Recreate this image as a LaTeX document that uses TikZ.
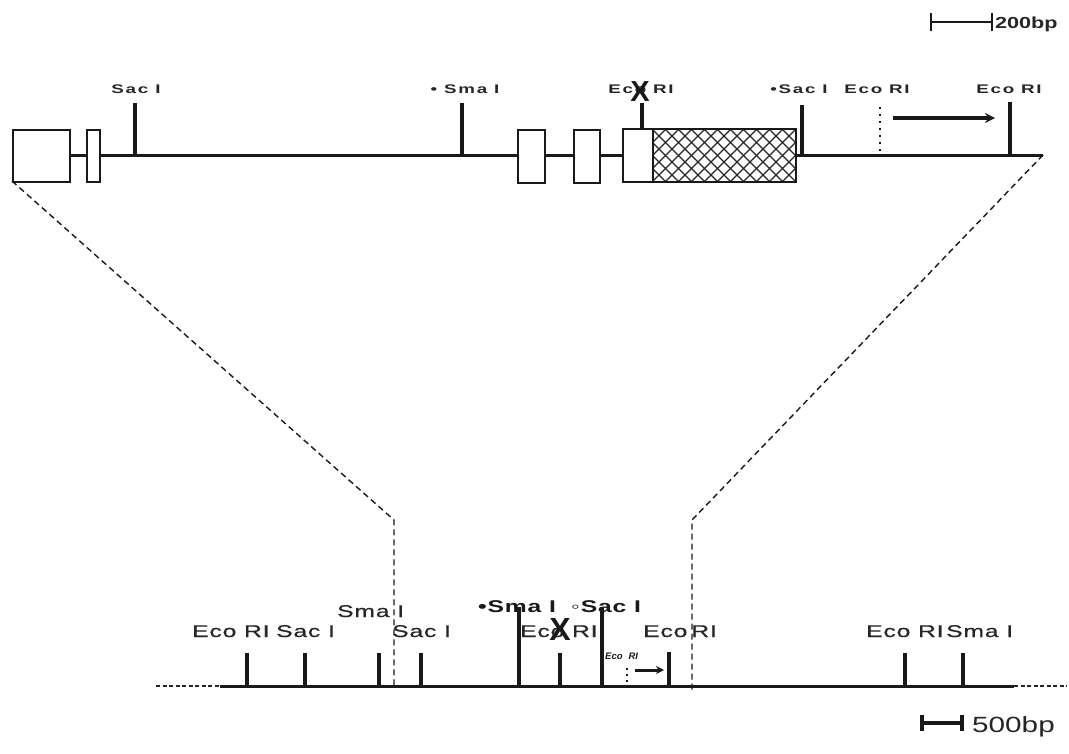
\documentclass[tikz,border=0pt]{standalone}
\usepackage{fontspec}
\usetikzlibrary{arrows.meta}
\setmainfont{Liberation Sans}
\newfontfamily\spacedtop[FakeStretch=1.5,LetterSpace=14]{Liberation Sans}
\newfontfamily\spacedbot[FakeStretch=1.45,LetterSpace=5,FakeBold=0.6]{Liberation Sans}
\newfontfamily\spacedbold[FakeStretch=1.45,LetterSpace=5]{Liberation Sans Bold}
\newfontfamily\spacedscl[FakeStretch=1.35]{Liberation Sans}
\begin{document}
\begin{tikzpicture}[x=1pt,y=-1pt,
  mainln/.style={draw=black!90, line width=3pt},
  exon/.style={draw=black!90, line width=2pt, fill=white},
  tk/.style={draw=black!90, line width=3.4pt},
  tlbl/.style={font=\spacedtop\bfseries\fontsize{12.5}{13}\selectfont, text=black!85, anchor=base, inner sep=0pt},
  blbl/.style={font=\spacedbot\fontsize{17}{18}\selectfont, text=black!85, anchor=base west, inner sep=0pt},
  bblbl/.style={font=\spacedbold\fontsize{17}{18}\selectfont, text=black!90, anchor=base west, inner sep=0pt},
  bigx/.style={font=\bfseries\fontsize{29}{29}\selectfont, text=black!90, inner sep=0pt},
  expand/.style={draw=black!90, line width=1.4pt, dash pattern=on 6pt off 4pt},
  dotln/.style={draw=black!90, line width=2.2pt, dash pattern=on 2pt off 5pt},
  arr/.style={draw=black!90, line width=3.6pt, -{Stealth[length=10pt,width=10pt]}},
  scl/.style={draw=black!90, line width=2.8pt}
]
\useasboundingbox (0,0) rectangle (1069,753);

% ---------- scale bar top ----------
\coordinate (s1a) at (931,22); \coordinate (s1b) at (992,22);
\draw[scl] (s1a) -- (s1b);
\draw[scl] ([yshift=-9pt]s1a) -- ([yshift=9pt]s1a);
\draw[scl] ([yshift=-9pt]s1b) -- ([yshift=9pt]s1b);
\node[font=\spacedscl\bfseries\fontsize{16}{16}\selectfont, text=black!85, anchor=base west, inner sep=0pt] (sc1) at (995,28) {200bp};

% ---------- top gene map ----------
\node[exon, minimum width=57pt, minimum height=52pt, anchor=north west] (e1) at (12,129) {};
\node[exon, minimum width=13pt, minimum height=52pt, anchor=north west] (e2) at (86,129) {};
\node[exon, minimum width=27pt, minimum height=53pt, anchor=north west] (e3) at (517,129) {};
\node[exon, minimum width=26pt, minimum height=53pt, anchor=north west] (e4) at (573,129) {};
\coordinate (lineend) at (1043,155);
\draw[mainln] (e1.east |- 0,155) -- (e2.west |- 0,155);
\draw[mainln] (e2.east |- 0,155) -- (e3.west |- 0,155);
\draw[mainln] (e3.east |- 0,155) -- (e4.west |- 0,155);
\draw[mainln] (e4.east |- 0,155) -- (623,155);
\draw[mainln] (796,155) -- (lineend);
% hatched exon
\begin{scope}
  \clip (653,129) rectangle (796,182);
  \foreach \i in {0,...,20} {
    \draw[black!85, line width=1.3pt] (600+\i*13,182) -- ++(53,-53);
    \draw[black!85, line width=1.3pt] (600+\i*13,129) -- ++(53,53);
  }
\end{scope}
\draw[exon, fill=none] (623,129) rectangle (796,182);
\draw[black!90, line width=2pt] (653,129) -- (653,182);
\node[inner sep=0pt, minimum size=0pt] (e5) at (709,155) {};

% top ticks
\coordinate (t1a) at (135,103); \coordinate (t1b) at (135,155);
\coordinate (t2a) at (462,103); \coordinate (t2b) at (462,155);
\coordinate (t3a) at (642,103); \coordinate (t3b) at (642,129);
\coordinate (t4a) at (802,105); \coordinate (t4b) at (802,155);
\coordinate (t5a) at (880,107); \coordinate (t5b) at (880,155);
\coordinate (t6a) at (1010,102); \coordinate (t6b) at (1010,155);
\draw[tk] (t1a) -- (t1b);
\draw[tk] (t2a) -- (t2b);
\draw[tk] (t3a) -- (t3b);
\draw[tk] (t4a) -- (t4b);
\draw[dotln] (t5a) -- (t5b);
\draw[tk] (t6a) -- (t6b);
\coordinate (a1a) at (893,118); \coordinate (a1b) at (995,118);
\draw[arr] (a1a) -- (a1b);

% top labels
\node[tlbl] (l1) at (136,93) {Sac I};
\node[tlbl] (l2) at (465,93) {\textbullet\ Sma I};
\node[tlbl] (l3) at (641,93) {Eco RI};
\node[bigx] (x1) at (640,92) {X};
\node[tlbl] (l4) at (799,93) {\textbullet Sac I};
\node[tlbl] (l5) at (877,93) {Eco RI};
\node[tlbl] (l6) at (1009,93) {Eco RI};

% ---------- expansion lines ----------
\coordinate (xl1) at (12,181); \coordinate (xl2) at (394,520); \coordinate (xl3) at (394,688);
\coordinate (xr1) at (1043,155); \coordinate (xr2) at (692,520); \coordinate (xr3) at (692,690);
\draw[expand] (xl1) -- (xl2) -- (xl3);
\draw[expand] (xr1) -- (xr2) -- (xr3);

% ---------- bottom map ----------
\coordinate (b0) at (156,686); \coordinate (b1) at (220,686);
\coordinate (b2) at (1014,686); \coordinate (b3) at (1067,686);
\draw[draw=black!85, line width=2.6pt, dash pattern=on 4pt off 2.5pt] (b0) -- (b1);
\draw[mainln] (b1) -- (b2);
\draw[draw=black!85, line width=2.6pt, dash pattern=on 4pt off 2.5pt] (b2) -- (b3);

\foreach \n/\x/\t in {u1/247/653, u2/305/653, u3/379/653, u4/421/653, u5/519/607, u6/560/653, u7/602/607, u8/669/652, u9/905/653, u10/963/653} {
  \coordinate (\n a) at (\x,\t);
  \coordinate (\n b) at (\x,686);
  \draw[tk] (\n a) -- (\n b);
}
\coordinate (d1a) at (627,668); \coordinate (d1b) at (627,686);
\draw[black!90, line width=2.2pt, dash pattern=on 2pt off 4pt] (d1a) -- (d1b);
\coordinate (a2a) at (635,670); \coordinate (a2b) at (664,670);
\draw[draw=black!90, line width=3pt, -{Stealth[length=8pt,width=8pt]}] (a2a) -- (a2b);

% bottom labels
\node[blbl] (m1) at (192,637) {Eco RI};
\node[blbl] (m2) at (276,637) {Sac I};
\node[blbl] (m3) at (337,617) {Sma I};
\node[blbl] (m4) at (392,637) {Sac I};
\node[bblbl] (m5) at (478,612) {\textbullet Sma I};
\node[bblbl] (m6) at (571,612) {\textopenbullet Sac I};
\node[blbl] (m7) at (520,637) {Eco RI};
\node[bigx, font=\bfseries\fontsize{32}{32}\selectfont] (x2) at (560,629) {X};
\node[blbl] (m8) at (643,637) {Eco\hspace{4pt}RI};
\node[font=\bfseries\itshape\fontsize{9.5}{9.5}\selectfont, text=black!90, anchor=base west, inner sep=0pt] (m9) at (605,659) {Eco\hspace{6pt}RI};
\node[blbl] (m10) at (866,637) {Eco RI};
\node[blbl] (m11) at (946,637) {Sma I};

% ---------- scale bar bottom ----------
\coordinate (s2a) at (922,723); \coordinate (s2b) at (962,723);
\draw[draw=black!90, line width=3.4pt] (s2a) -- (s2b);
\draw[draw=black!90, line width=3.4pt] ([yshift=-8pt]s2a) -- ([yshift=8pt]s2a);
\draw[draw=black!90, line width=3.4pt] ([yshift=-8pt]s2b) -- ([yshift=8pt]s2b);
\node[font=\spacedscl\fontsize{22}{22}\selectfont, text=black!85, anchor=base west, inner sep=0pt] (sc2) at (972,732) {500bp};
\end{tikzpicture}
\end{document}
